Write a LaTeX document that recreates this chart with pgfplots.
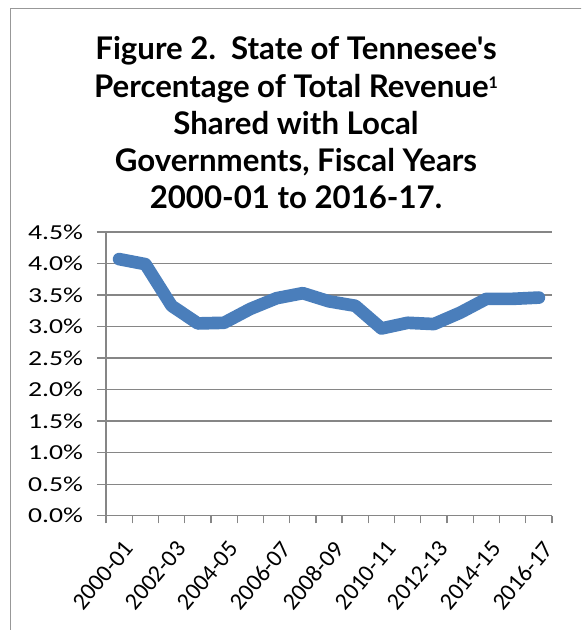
\documentclass[border=0pt]{standalone}
\usepackage{fontspec}
\usepackage{pgfplots}
\pgfplotsset{compat=1.18}
\newfontfamily\tickfont[FakeStretch=1.3]{Carlito}
\newfontfamily\xtickfont{Carlito}
\newfontfamily\titlefont{Lato}
\definecolor{lineblue}{RGB}{74,126,187}
\definecolor{gridgray}{RGB}{134,134,134}
\begin{document}
\begin{tikzpicture}
\path[use as bounding box] (0,0) rectangle (435.75pt,-472.5pt);
\begin{scope}
\clip (0,0) rectangle (435.75pt,-472.5pt);
\draw[gridgray!85, line width=1.2pt] (8pt,-6.4pt) rectangle (450pt,-480pt);
\end{scope}
\begin{scope}[every node/.style={font=\titlefont\bfseries\fontsize{23.4}{28}\selectfont, anchor=base, inner sep=0pt}]
\node at (222pt,-45pt) {Figure 2.\ \ State of Tennesee's};
\node at (222pt,-73.5pt) {Percentage of Total Revenue\raisebox{7pt}{\fontsize{12}{12}\selectfont 1}};
\node at (222pt,-101.25pt) {Shared with Local};
\node at (222pt,-129pt) {Governments, Fiscal Years};
\node at (222pt,-156.75pt) {2000-01 to 2016-17.};
\end{scope}
\begin{axis}[
  at={(79.5pt,-386.8pt)}, anchor=south west,
  scale only axis, width=334.5pt, height=212.8pt,
  xmin=-0.5, xmax=16.5, ymin=0, ymax=4.5,
  axis lines*=left,
  axis line style={gridgray, line width=1pt},
  ymajorgrids, grid style={gridgray, line width=1pt},
  ytick={0,0.5,1,1.5,2,2.5,3,3.5,4,4.5},
  yticklabel={\pgfmathprintnumber[fixed,fixed zerofill,precision=1]{\tick}\%},
  /pgf/number format/assume math mode=true,
  tick align=outside, major tick length=6.75pt, minor tick length=5.8pt,
  tick style={gridgray, line width=1pt},
  xtick={0,2,4,6,8,10,12,14,16},
  xticklabels={2000-01,2002-03,2004-05,2006-07,2008-09,2010-11,2012-13,2014-15,2016-17},
  minor xtick={-0.5,0.5,...,16.5},
  major x tick style={draw=none},
  y tick label style={font=\tickfont\fontsize{16}{18}\selectfont, xshift=-7pt},
  x tick label style={font=\xtickfont\fontsize{18}{20}\selectfont, xshift=8pt, yshift=-14pt, rotate=50, anchor=east, inner sep=1pt},
  clip=false,
]
\addplot[lineblue, line width=9.5pt, line join=round, line cap=round] coordinates {
(0,4.07) (1,3.99) (2,3.33) (3,3.05) (4,3.06) (5,3.28) (6,3.45) (7,3.53) (8,3.40)
(9,3.33) (10,2.97) (11,3.06) (12,3.04) (13,3.22) (14,3.44) (15,3.44) (16,3.46)};
\end{axis}
\end{tikzpicture}
\end{document}
